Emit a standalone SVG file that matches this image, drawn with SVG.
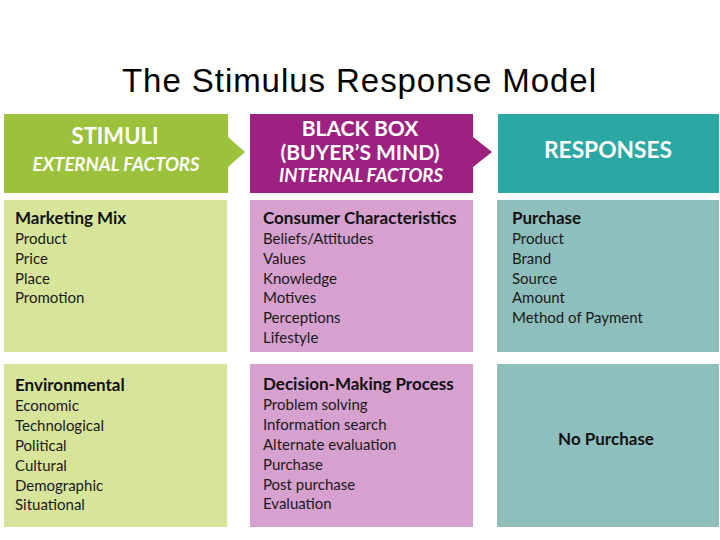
<svg xmlns="http://www.w3.org/2000/svg" width="720" height="540" viewBox="0 0 720 540">
<style>
.title{font-family:"Liberation Sans",Arial,sans-serif;font-size:33px;fill:#000}
.hd{font-family:Lato,"Liberation Sans",sans-serif;font-weight:bold;fill:#fff;text-anchor:middle}
.big{font-size:22px}
.bb{font-size:21px}
.it{font-size:18.5px;font-style:italic}
.bh{font-family:Lato,"Liberation Sans",sans-serif;font-weight:bold;font-size:17px;fill:#111}
.bt{font-family:Lato,"Liberation Sans",sans-serif;font-size:15px;fill:#1a1a1a}
</style>
<rect width="720" height="540" fill="#fff"/>
<text class="title" x="122" y="92" textLength="474" lengthAdjust="spacing">The Stimulus Response Model</text>
<g id="stimuli-header">
<path d="M4,114 H228 V137 L245,152 L228,167 V193 H4 Z" fill="#9CC23C"/>
<text class="hd big" x="115" y="144">STIMULI</text>
<text class="hd it" x="116" y="171">EXTERNAL FACTORS</text>
</g>
<g id="blackbox-header">
<path d="M250,114 H473 V137 L492,152 L473,167 V193 H250 Z" fill="#9C2180"/>
<text class="hd bb" x="360" y="136">BLACK BOX</text>
<text class="hd bb" x="360" y="160">(BUYER’S MIND)</text>
<text class="hd it" x="361" y="182">INTERNAL FACTORS</text>
</g>
<g id="responses-header">
<rect x="498" y="114" width="221" height="79" fill="#2BA8A3"/>
<text class="hd big" x="608" y="158" textLength="128" lengthAdjust="spacingAndGlyphs">RESPONSES</text>
</g>
<g id="marketing-mix">
<rect x="4" y="200" width="223" height="152" fill="#D7E59A"/>
<text class="bh" x="15" y="224">Marketing Mix</text>
<text class="bt" x="15" y="244">Product</text>
<text class="bt" x="15" y="264">Price</text>
<text class="bt" x="15" y="284">Place</text>
<text class="bt" x="15" y="303">Promotion</text>
</g>
<g id="consumer-characteristics">
<rect x="250" y="200" width="223" height="152" fill="#D6A0CF"/>
<text class="bh" x="263" y="224">Consumer Characteristics</text>
<text class="bt" x="263" y="244">Beliefs/Attitudes</text>
<text class="bt" x="263" y="264">Values</text>
<text class="bt" x="263" y="284">Knowledge</text>
<text class="bt" x="263" y="303">Motives</text>
<text class="bt" x="263" y="323">Perceptions</text>
<text class="bt" x="263" y="343">Lifestyle</text>
</g>
<g id="purchase">
<rect x="497" y="200" width="222" height="152" fill="#8FBFBC"/>
<text class="bh" x="512" y="224">Purchase</text>
<text class="bt" x="512" y="244">Product</text>
<text class="bt" x="512" y="264">Brand</text>
<text class="bt" x="512" y="284">Source</text>
<text class="bt" x="512" y="303">Amount</text>
<text class="bt" x="512" y="323">Method of Payment</text>
</g>
<g id="environmental">
<rect x="4" y="364" width="223" height="163" fill="#D7E59A"/>
<text class="bh" x="15" y="391">Environmental</text>
<text class="bt" x="15" y="411">Economic</text>
<text class="bt" x="15" y="431">Technological</text>
<text class="bt" x="15" y="451">Political</text>
<text class="bt" x="15" y="471">Cultural</text>
<text class="bt" x="15" y="491">Demographic</text>
<text class="bt" x="15" y="510">Situational</text>
</g>
<g id="decision-making">
<rect x="250" y="364" width="223" height="163" fill="#D6A0CF"/>
<text class="bh" x="263" y="390">Decision-Making Process</text>
<text class="bt" x="263" y="410">Problem solving</text>
<text class="bt" x="263" y="430">Information search</text>
<text class="bt" x="263" y="450">Alternate evaluation</text>
<text class="bt" x="263" y="470">Purchase</text>
<text class="bt" x="263" y="490">Post purchase</text>
<text class="bt" x="263" y="509">Evaluation</text>
</g>
<g id="no-purchase">
<rect x="497" y="364" width="222" height="163" fill="#8FBFBC"/>
<text class="bh" x="606" y="445" text-anchor="middle">No Purchase</text>
</g>
<g id="connectors"></g>
</svg>
